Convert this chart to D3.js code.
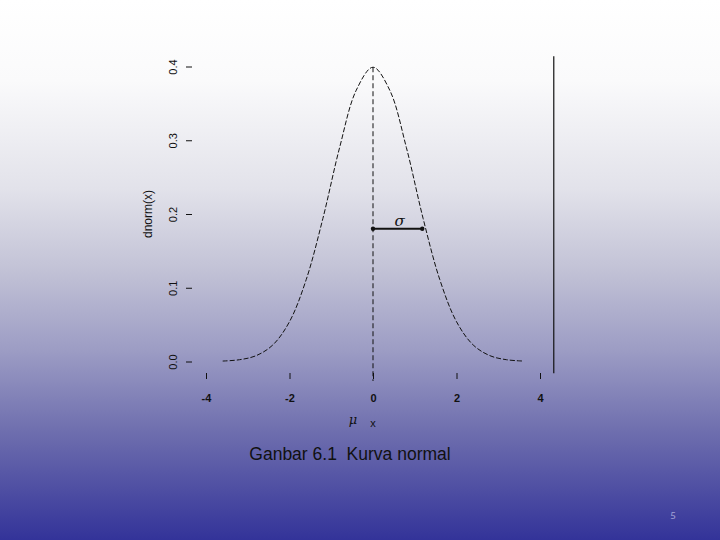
<!DOCTYPE html>
<html>
<head>
<meta charset="utf-8">
<script src="https://cdn.jsdelivr.net/npm/d3@7"></script>
<style>
  html, body { margin: 0; padding: 0; }
  svg { display: block; }
</style>
</head>
<body>
<svg width="720" height="540"></svg>
<script>
// values
const xTicks = [-4, -2, 0, 2, 4]
const xTickLabels = ['-4', '-2', '0', '2', '4']
const yTicks = [0.0, 0.1, 0.2, 0.3, 0.4]
const yTickLabels = ['0.0', '0.1', '0.2', '0.3', '0.4']
const curveX = [-3.6, -3.2, -2.8, -2.4, -2.0, -1.6, -1.2, -0.8, -0.4, 0, 0.4, 0.8, 1.2, 1.6, 2.0, 2.4, 2.8, 3.2, 3.6]
const curveY = [0.0006, 0.0024, 0.0079, 0.0224, 0.054, 0.111, 0.194, 0.290, 0.368, 0.399, 0.368, 0.290, 0.194, 0.111, 0.054, 0.0224, 0.0079, 0.0024, 0.0006]
const sigmaArrow = { from: 0, to: 1.18, level: 0.18 }
const frameLine = { x: 4.33, y0: -0.016, y1: 0.414 }
const caption = 'Ganbar 6.1  Kurva normal'
const pageNumber = '5'

const svg = d3.select('svg')
const width = +svg.attr('width')
const height = +svg.attr('height')

// background gradient
const defs = svg.append('defs')
const grad = defs.append('linearGradient')
	.attr('id', 'bg')
	.attr('x1', 0).attr('y1', 0).attr('x2', 0).attr('y2', 1)
const stops = [
	['0%', '#ffffff'], ['15%', '#fafafb'], ['35%', '#e2e2ea'], ['50%', '#c2c2d6'],
	['65%', '#9c9cc4'], ['80%', '#6e6eae'], ['100%', '#333399']
]
stops.forEach(s => grad.append('stop').attr('offset', s[0]).attr('stop-color', s[1]))
svg.append('rect').attr('width', width).attr('height', height).attr('fill', 'url(#bg)')

const x = d3.scaleLinear().domain([-4, 4]).range([206, 540])
const y = d3.scaleLinear().domain([0, 0.4]).range([361.5, 66.5])

const g = svg.append('g')
	.style('font-family', '"Liberation Sans", Arial, sans-serif')

// x axis (ticks only)
const xAxis = g.append('g')
	.attr('transform', `translate(0, 373)`)
	.call(d3.axisBottom(x).tickValues(xTicks).tickSize(6).tickPadding(15).tickFormat((d, i) => xTickLabels[i]))
xAxis.select('.domain').remove()
xAxis.selectAll('line').attr('stroke', '#111')
xAxis.selectAll('text')
	.attr('font-size', 11).attr('font-family', '"Liberation Sans", Arial, sans-serif')
	.attr('fill', '#111').style('font-weight', 'bold')

// y axis (ticks only, rotated labels)
const yAxis = g.append('g')
	.attr('transform', `translate(192, 0)`)
	.call(d3.axisLeft(y).tickValues(yTicks).tickSize(6).tickFormat((d, i) => yTickLabels[i]))
yAxis.select('.domain').remove()
yAxis.selectAll('line').attr('stroke', '#111')
yAxis.selectAll('text')
	.attr('x', null).attr('dy', null)
	.attr('font-size', 11).attr('font-family', '"Liberation Sans", Arial, sans-serif')
	.attr('fill', '#111')
	.attr('text-anchor', 'middle')
	.attr('transform', 'translate(-15, 0) rotate(-90)')
	.attr('y', 0)

// axis titles
g.append('text')
	.attr('transform', `translate(152, ${y(0.2)}) rotate(-90)`)
	.attr('text-anchor', 'middle')
	.attr('font-size', 12).attr('fill', '#111')
	.text('dnorm(x)')

g.append('text')
	.attr('x', x(0)).attr('y', 427)
	.attr('text-anchor', 'middle')
	.attr('font-size', 11).attr('fill', '#111')
	.text('x')

g.append('text')
	.attr('x', x(0) - 20).attr('y', 424)
	.attr('text-anchor', 'middle')
	.attr('font-size', 13).attr('fill', '#111')
	.style('font-family', '"DejaVu Serif", serif').style('font-style', 'italic')
	.text('μ')

// normal curve
const pts = curveX.map((v, i) => [v, curveY[i]])
const line = d3.line()
	.x(d => x(d[0]))
	.y(d => y(d[1]))
	.curve(d3.curveCatmullRom)
g.append('path')
	.datum(pts)
	.attr('d', line)
	.attr('fill', 'none')
	.attr('stroke', '#111')
	.attr('stroke-width', 1)
	.attr('stroke-dasharray', '5,2')

// mean line
g.append('line')
	.attr('x1', x(0)).attr('x2', x(0))
	.attr('y1', y(d3.max(curveY))).attr('y2', 381)
	.attr('stroke', '#111')
	.attr('stroke-dasharray', '5,3')

// sigma arrow
g.append('line')
	.attr('x1', x(sigmaArrow.from)).attr('x2', x(sigmaArrow.to))
	.attr('y1', y(sigmaArrow.level)).attr('y2', y(sigmaArrow.level))
	.attr('stroke', '#111').attr('stroke-width', 2)
g.selectAll('.tip')
	.data([sigmaArrow.from, sigmaArrow.to])
	.enter()
	.append('circle')
	.attr('cx', d => x(d)).attr('cy', y(sigmaArrow.level))
	.attr('r', 2.2).attr('fill', '#111')
g.append('text')
	.attr('x', (x(sigmaArrow.from) + x(sigmaArrow.to)) / 2 + 2)
	.attr('y', y(sigmaArrow.level) - 3)
	.attr('text-anchor', 'middle')
	.attr('font-size', 15).attr('fill', '#111')
	.style('font-family', '"DejaVu Serif", serif').style('font-style', 'italic')
	.text('σ')

// right frame line
g.append('line')
	.attr('x1', x(frameLine.x)).attr('x2', x(frameLine.x))
	.attr('y1', y(frameLine.y1)).attr('y2', y(frameLine.y0))
	.attr('stroke', '#111').attr('stroke-width', 1.2)

// caption
g.append('text')
	.attr('x', 350).attr('y', 460)
	.attr('text-anchor', 'middle')
	.attr('font-size', 17.5).attr('fill', '#111')
	.style('white-space', 'pre')
	.text(caption)

g.append('text')
	.attr('x', 673).attr('y', 519)
	.attr('text-anchor', 'middle')
	.attr('font-size', 11).attr('fill', '#a3a3d6')
	.style('font-family', 'Calibri, Carlito, "Open Sans", sans-serif')
	.text(pageNumber)
</script>
</body>
</html>
